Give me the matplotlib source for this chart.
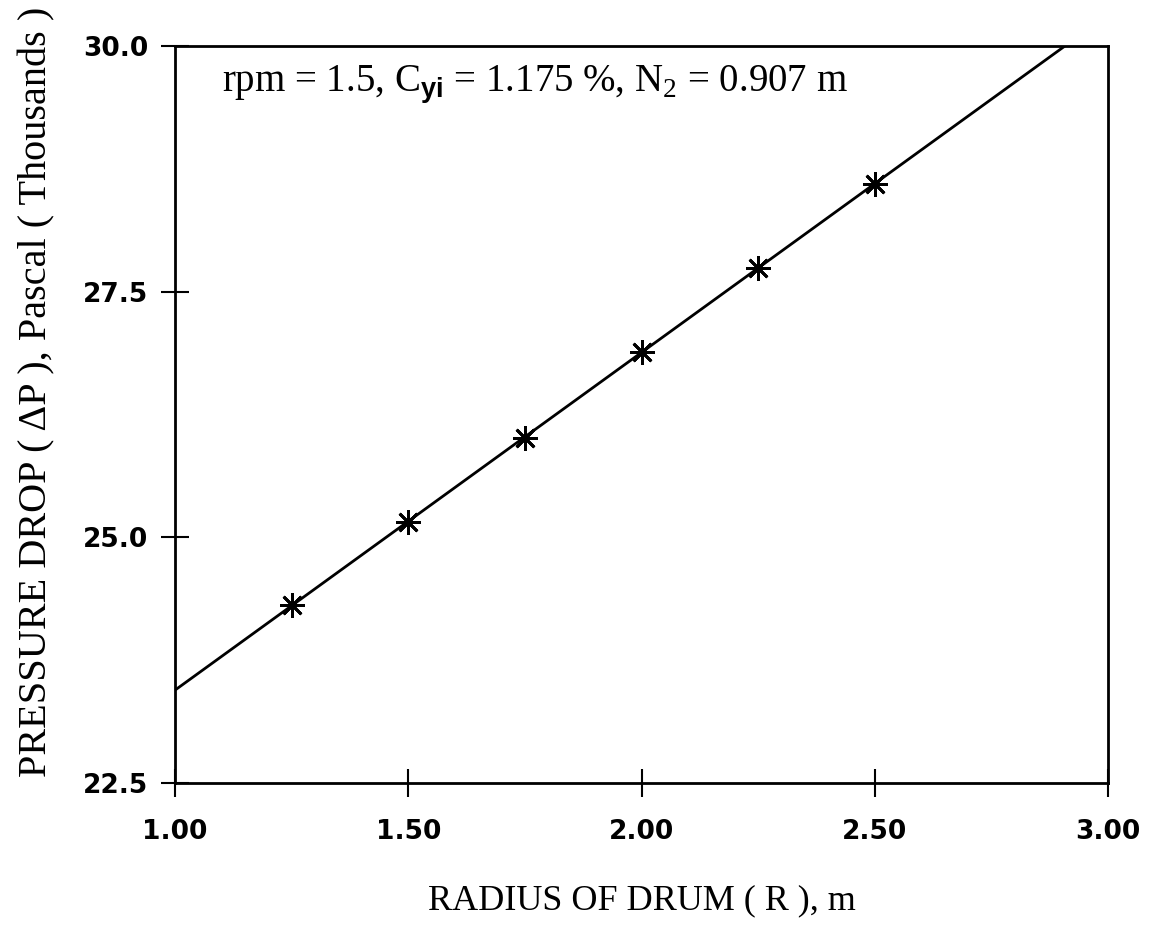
import numpy as np
import matplotlib
matplotlib.use("Agg")
import matplotlib.pyplot as plt

# drum radius (m) vs pressure drop (Pa, thousands)
radius = [1.25, 1.50, 1.75, 2.00, 2.25, 2.50]
pressure_drop = [24.31, 25.16, 26.01, 26.89, 27.74, 28.60]

x_ticks = [1.00, 1.50, 2.00, 2.50, 3.00]
y_ticks = [22.5, 25.0, 27.5, 30.0]

plt.rcParams["mathtext.fontset"] = "custom"
plt.rcParams["mathtext.rm"] = "Liberation Serif"
plt.rcParams["mathtext.bf"] = "Liberation Sans:bold"

fig = plt.figure(figsize=(11.62, 9.31), dpi=100)
ax = fig.add_axes([0.1506, 0.159, 0.803, 0.7916])

# least squares line through the points
slope, icpt = np.polyfit(radius, pressure_drop, 1)
xl = np.array([1.0, 3.0])
ax.plot(xl, slope * xl + icpt, color="black", linewidth=2.0)
ax.plot(radius, pressure_drop, linestyle="none", marker=(8, 2, 0),
        markersize=18, markeredgewidth=2.0, color="black")

ax.set_xlim(1.0, 3.0)
ax.set_ylim(22.5, 30.0)
ax.set_xticks(x_ticks)
ax.set_yticks(y_ticks)
ax.set_xticklabels(["%.2f" % v for v in x_ticks])
ax.set_yticklabels(["%.1f" % v for v in y_ticks])
for lab in ax.get_xticklabels() + ax.get_yticklabels():
    lab.set_fontfamily("DejaVu Sans")
    lab.set_fontweight("bold")
    lab.set_fontsize(19)
ax.tick_params(direction="inout", length=20, width=1.5)
ax.tick_params(axis="y", pad=9)
ax.tick_params(axis="x", pad=16)
for s in ax.spines.values():
    s.set_linewidth(2.0)

ax.set_xlabel("RADIUS OF DRUM ( R ), m", fontfamily="Liberation Serif",
              fontsize=26, labelpad=28)
ax.set_ylabel("PRESSURE DROP ( \u0394P ), Pascal ( Thousands )",
              fontfamily="Liberation Serif", fontsize=29)
ax.yaxis.set_label_coords(-0.128, 0.53)

ax.text(0.05, 0.948, r"rpm = 1.5, C$_{\mathbf{yi}}$ = 1.175 %, N$_2$ = 0.907 m",
        transform=ax.transAxes, fontfamily="Liberation Serif", fontsize=28,
        va="center", ha="left")

fig.savefig("out.png", dpi=100)
